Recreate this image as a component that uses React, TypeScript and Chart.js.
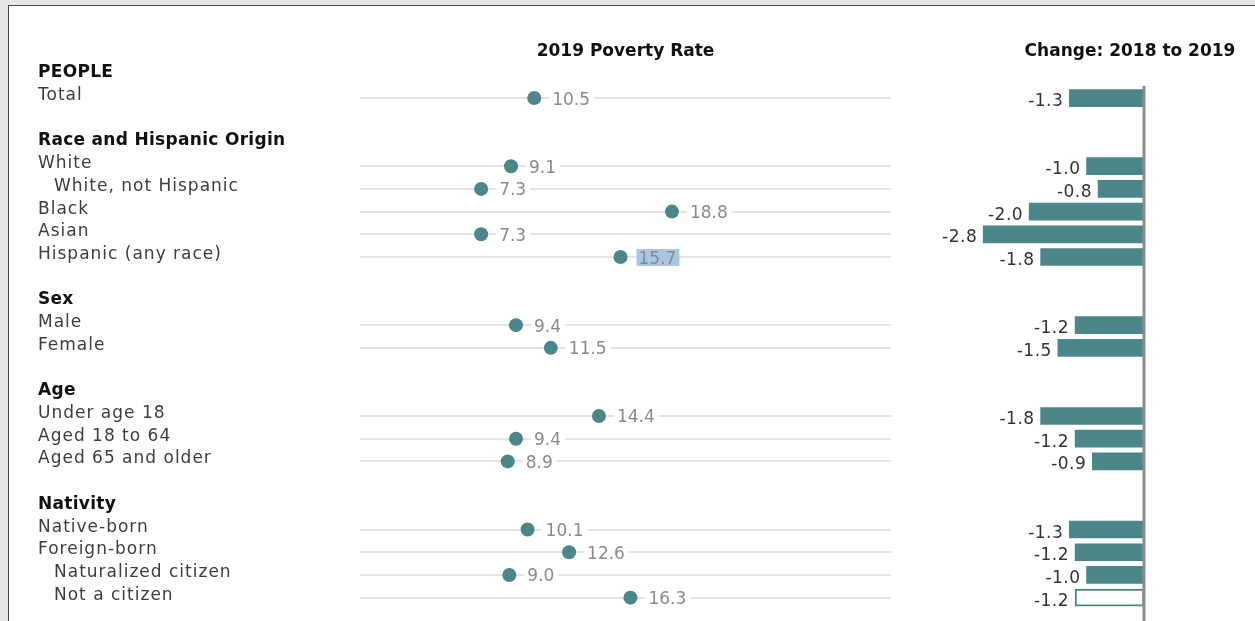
import React, { useEffect, useRef } from 'react';
import { Chart, registerables } from 'chart.js';

Chart.register(...registerables);

// ---- data ----
const categories: string[] = [
  'PEOPLE', 'Total', '',
  'Race and Hispanic Origin', 'White', 'White, not Hispanic', 'Black', 'Asian', 'Hispanic (any race)', '',
  'Sex', 'Male', 'Female', '',
  'Age', 'Under age 18', 'Aged 18 to 64', 'Aged 65 and older', '',
  'Nativity', 'Native-born', 'Foreign-born', 'Naturalized citizen', 'Not a citizen',
];
// row kinds: h = group header, i = item, s = sub-item (indented), g = gap
const rowKinds: string[] = [
  'h', 'i', 'g',
  'h', 'i', 's', 'i', 'i', 'i', 'g',
  'h', 'i', 'i', 'g',
  'h', 'i', 'i', 'i', 'g',
  'h', 'i', 'i', 's', 's',
];
const rates2019: (number | null)[] = [
  null, 10.5, null,
  null, 9.1, 7.3, 18.8, 7.3, 15.7, null,
  null, 9.4, 11.5, null,
  null, 14.4, 9.4, 8.9, null,
  null, 10.1, 12.6, 9.0, 16.3,
];
const change2018to2019: (number | null)[] = [
  null, -1.3, null,
  null, -1.0, -0.8, -2.0, -2.8, -1.8, null,
  null, -1.2, -1.5, null,
  null, -1.8, -1.2, -0.9, null,
  null, -1.3, -1.2, -1.0, -1.2,
];
const rateTitle = '2019 Poverty Rate';
const changeTitle = 'Change: 2018 to 2019';
const rateAxisMax = 32;
const changeAxisMin = -3.5;

// ---- style ----
const FONT = '"DejaVu Sans", sans-serif';
const TEAL = '#4b868a';
const HIGHLIGHT_ROW = 8;
const OUTLINED_ROW = 23;

function setFont(ctx: CanvasRenderingContext2D, weight: string, size: number, spacing: number) {
  ctx.font = `${weight} ${size}px ${FONT}`;
  (ctx as any).letterSpacing = spacing + 'px';
}

const leftTextPlugin = {
  id: 'leftText',
  afterDatasetsDraw(chart: any) {
    const { ctx } = chart;
    const x = chart.scales.x;
    const y = chart.scales.y;
    ctx.save();
    ctx.textAlign = 'left';
    ctx.textBaseline = 'alphabetic';
    rates2019.forEach((v, i) => {
      if (v == null) return;
      const px = x.getPixelForValue(v);
      const yc = y.getPixelForValue(i);
      const txt = v.toFixed(1);
      setFont(ctx, 'normal', 17, 0);
      const w = ctx.measureText(txt).width;
      const tx = px + 18;
      ctx.fillStyle = i === HIGHLIGHT_ROW ? '#a8c6e4' : '#ffffff';
      if (i === HIGHLIGHT_ROW) ctx.fillRect(tx - 2, yc - 8, w + 5, 17);
      else ctx.fillRect(tx - 3, yc - 8, w + 7, 16);
      ctx.fillStyle = '#8a8a8a';
      ctx.fillText(txt, tx, yc + 6.5);
    });
    ctx.restore();
  },
  afterDraw(chart: any) {
    const { ctx, chartArea } = chart;
    const y = chart.scales.y;
    ctx.save();
    ctx.textBaseline = 'alphabetic';
    // column title
    setFont(ctx, 'bold', 17, 0);
    ctx.fillStyle = '#111111';
    ctx.textAlign = 'center';
    ctx.fillText(rateTitle, (chartArea.left + chartArea.right) / 2, 50);
    // row labels
    ctx.textAlign = 'left';
    categories.forEach((label, i) => {
      const kind = rowKinds[i];
      if (kind === 'g') return;
      const yc = y.getPixelForValue(i);
      if (kind === 'h') {
        setFont(ctx, 'bold', 17, 0.3);
        ctx.fillStyle = '#111111';
      } else {
        setFont(ctx, 'normal', 17, 1);
        ctx.fillStyle = '#3a3d42';
      }
      ctx.fillText(label, kind === 's' ? 45 : 29, yc + 2);
    });
    ctx.restore();
  },
};

const rightTextPlugin = {
  id: 'rightText',
  afterDatasetsDraw(chart: any) {
    const { ctx } = chart;
    const x = chart.scales.x;
    const y = chart.scales.y;
    const zx = x.getPixelForValue(0);
    ctx.save();
    // zero line
    ctx.strokeStyle = '#8c8c8c';
    ctx.lineWidth = 3;
    ctx.beginPath();
    ctx.moveTo(zx, y.getPixelForValue(1) - 12);
    ctx.lineTo(zx, chart.height);
    ctx.stroke();
    // value labels
    ctx.textAlign = 'right';
    ctx.textBaseline = 'alphabetic';
    setFont(ctx, 'normal', 17, 0.5);
    ctx.fillStyle = '#333333';
    change2018to2019.forEach((v, i) => {
      if (v == null) return;
      ctx.fillText(v.toFixed(1), x.getPixelForValue(v) - 6, y.getPixelForValue(i) + 8);
    });
    // title
    setFont(ctx, 'bold', 17, 0);
    ctx.fillStyle = '#111111';
    ctx.textAlign = 'center';
    ctx.fillText(changeTitle, zx - 14, 50);
    ctx.restore();
  },
};

export default function App() {
  const leftRef = useRef<HTMLCanvasElement>(null);
  const rightRef = useRef<HTMLCanvasElement>(null);

  useEffect(() => {
    const left = new Chart(leftRef.current as HTMLCanvasElement, {
      type: 'line',
      data: {
        labels: categories,
        datasets: [
          {
            data: rates2019 as any,
            showLine: false,
            pointRadius: 7,
            pointHoverRadius: 7,
            pointBackgroundColor: TEAL,
            pointBorderWidth: 0,
            borderColor: TEAL,
          },
        ],
      },
      options: {
        indexAxis: 'y',
        responsive: false,
        animation: false,
        devicePixelRatio: 1,
        layout: { padding: { top: 58, bottom: 12, left: 351, right: 14 } },
        plugins: { legend: { display: false }, tooltip: { enabled: false } },
        scales: {
          x: { type: 'linear', min: 0, max: rateAxisMax, display: false },
          y: {
            type: 'category',
            offset: true,
            border: { display: false },
            grid: {
              offset: false,
              drawTicks: false,
              lineWidth: 2,
              color: (c: any) => (rates2019[c.index] != null ? '#e4e4e4' : 'rgba(0,0,0,0)'),
            },
            ticks: { display: false, autoSkip: false },
          },
        },
      } as any,
      plugins: [leftTextPlugin],
    });

    const right = new Chart(rightRef.current as HTMLCanvasElement, {
      type: 'bar',
      data: {
        labels: categories,
        datasets: [
          {
            data: change2018to2019 as any,
            barThickness: 17,
            backgroundColor: (c: any) => (c.dataIndex === OUTLINED_ROW ? '#ffffff' : TEAL),
            borderColor: TEAL,
            borderWidth: (c: any) => (c.dataIndex === OUTLINED_ROW ? 2 : 0),
            borderSkipped: false,
          },
        ],
      },
      options: {
        indexAxis: 'y',
        responsive: false,
        animation: false,
        devicePixelRatio: 1,
        layout: { padding: { top: 58, bottom: 12, left: 38, right: 111 } },
        plugins: { legend: { display: false }, tooltip: { enabled: false } },
        scales: {
          x: { type: 'linear', min: changeAxisMin, max: 0, display: false },
          y: { type: 'category', offset: true, display: false },
        },
      } as any,
      plugins: [rightTextPlugin],
    });

    return () => {
      left.destroy();
      right.destroy();
    };
  }, []);

  return (
    <div style={{ position: 'fixed', inset: 0, background: '#e6e6e6', overflow: 'hidden' }}>
      <div
        style={{
          position: 'absolute',
          left: 8,
          top: 5,
          right: 0,
          bottom: -4,
          background: '#ffffff',
          borderLeft: '1px solid #444',
          borderTop: '1px solid #444',
        }}
      >
        <canvas
          ref={leftRef}
          width={896}
          height={615}
          style={{ position: 'absolute', left: 0, top: 0, width: 896, height: 615 }}
        />
        <canvas
          ref={rightRef}
          width={350}
          height={615}
          style={{ position: 'absolute', left: 896, top: 0, width: 350, height: 615 }}
        />
      </div>
    </div>
  );
}
